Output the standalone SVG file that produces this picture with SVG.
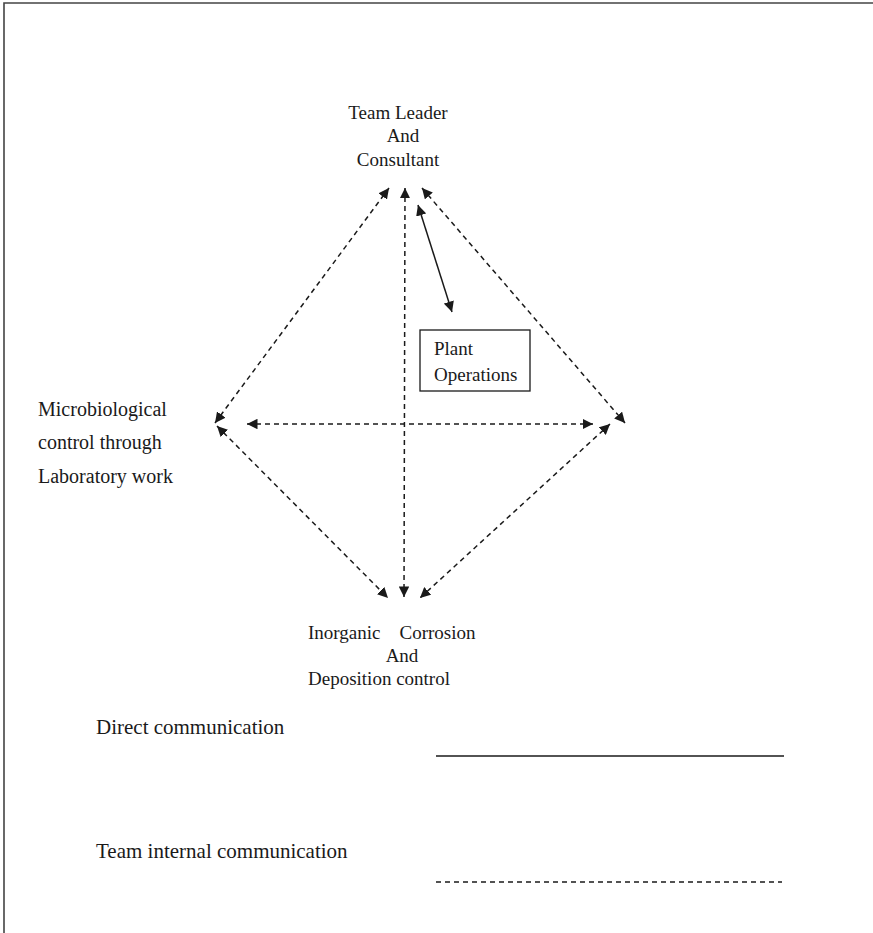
<svg xmlns="http://www.w3.org/2000/svg" width="873" height="933" viewBox="0 0 873 933">
  <style>
    .lbl { font-family: "Liberation Serif", "Times New Roman", serif; font-size: 19px; fill: #1a1a1a; }
    .side { font-family: "Liberation Serif", "Times New Roman", serif; font-size: 20px; fill: #1a1a1a; }
    .leg { font-family: "Liberation Serif", "Times New Roman", serif; font-size: 21px; fill: #1a1a1a; }
    .team { fill: none; stroke: #1a1a1a; stroke-width: 1.5; stroke-dasharray: 5 4; }
    .direct { fill: none; stroke: #1a1a1a; stroke-width: 1.5; }
    .frame { fill: none; stroke: #444; stroke-width: 1.6; }
  </style>
  <defs>
    <marker id="head" viewBox="0 0 10 10" refX="10" refY="5" markerWidth="7" markerHeight="7" orient="auto-start-reverse" markerUnits="strokeWidth">
      <path d="M0,0 L10,5 L0,10 z" fill="#1a1a1a"/>
    </marker>
  </defs>

  <rect width="873" height="933" fill="#fff"/>
  <path class="frame" d="M4,933 V3 H873"/>

  <g id="team-leader">
    <text class="lbl" x="398" y="119" text-anchor="middle">Team Leader</text>
    <text class="lbl" x="403" y="142" text-anchor="middle">And</text>
    <text class="lbl" x="398" y="166" text-anchor="middle">Consultant</text>
  </g>

  <g id="plant-operations">
    <rect x="420" y="330" width="110" height="61" fill="#fff" stroke="#1a1a1a" stroke-width="1.3"/>
    <text class="lbl" x="434" y="355">Plant</text>
    <text class="lbl" x="434" y="381">Operations</text>
  </g>

  <g id="microbiological">
    <text class="side" x="38" y="416">Microbiological</text>
    <text class="side" x="38" y="449">control through</text>
    <text class="side" x="38" y="483">Laboratory work</text>
  </g>

  <g id="corrosion">
    <text class="lbl" x="308" y="639" xml:space="preserve">Inorganic    Corrosion</text>
    <text class="lbl" x="402" y="662" text-anchor="middle">And</text>
    <text class="lbl" x="308" y="685">Deposition control</text>
  </g>

  <g id="legend">
    <text class="leg" x="96" y="734">Direct communication</text>
    <line class="direct" x1="436" y1="756" x2="784" y2="756"/>
    <text class="leg" x="96" y="858">Team internal communication</text>
    <line class="team" x1="436" y1="882" x2="782" y2="882"/>
  </g>

  <g id="connectors">
    <line class="team" x1="215" y1="423" x2="389" y2="188" marker-start="url(#head)" marker-end="url(#head)"/>
    <line class="team" x1="405" y1="188" x2="404" y2="597" marker-start="url(#head)" marker-end="url(#head)"/>
    <line class="team" x1="422" y1="188" x2="625" y2="423" marker-start="url(#head)" marker-end="url(#head)"/>
    <line class="team" x1="247" y1="424" x2="593" y2="424" marker-start="url(#head)" marker-end="url(#head)"/>
    <line class="team" x1="217" y1="426" x2="388" y2="598" marker-start="url(#head)" marker-end="url(#head)"/>
    <line class="team" x1="610" y1="424" x2="420" y2="598" marker-start="url(#head)" marker-end="url(#head)"/>
    <line class="direct" x1="418" y1="205" x2="452" y2="312" marker-start="url(#head)" marker-end="url(#head)"/>
  </g>
</svg>
